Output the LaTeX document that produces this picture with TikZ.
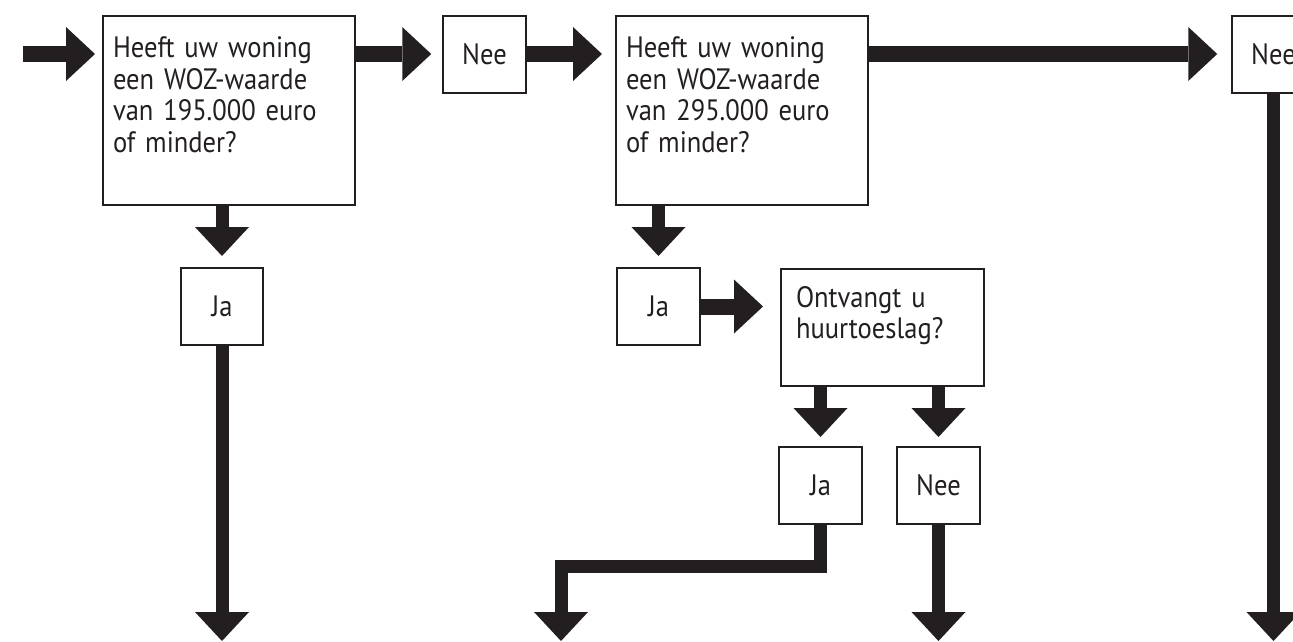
\documentclass[tikz,border=0pt]{standalone}
\usepackage{fontspec}
\setmainfont{PT Sans}[FakeStretch=0.9]
\usetikzlibrary{arrows.meta}
\definecolor{ink}{HTML}{231F20}

\begin{document}
\begin{tikzpicture}[x=1pt,y=-1pt,
  every node/.style={font=\fontsize{29.5pt}{31.5pt}\selectfont,text=ink},
  qbox/.style={draw=ink,line width=2pt,anchor=north west,align=left,inner ysep=0pt,
    execute at end node={\endgraf\vspace*{#1}}},
  sbox/.style={draw=ink,line width=2pt,minimum width=82.5pt,minimum height=77pt,inner sep=0pt},
  flow/.style={draw=ink,line width=#1,-{Triangle[length=29pt,width=54pt,line width=0pt]},shorten >=11pt},
  flow/.default=16pt]
\path[use as bounding box,fill=white] (0,0) rectangle (1293,641);
\clip (0,0) rectangle (1293,641);
% Questions
\node[qbox=32pt,minimum height=189pt,text width=231.5pt,inner xsep=10pt] (q1) at (102,15)
  {Heeft uw woning\\een WOZ-waarde\\van 195.000 euro\\of minder?};
\node[qbox=32pt,minimum height=189pt,text width=231.5pt,inner xsep=10pt] (q2) at (615,15)
  {Heeft uw woning\\een WOZ-waarde\\van 295.000 euro\\of minder?};
\node[qbox=24pt,minimum height=117pt,text width=173pt,inner xsep=15pt] (toeslag) at (780,268)
  {Ontvangt u\\huurtoeslag?};
% Answers
\node[sbox] (nee1) at (484.5,54) {Nee};
\node[sbox] (nee2) at (1273.5,54) {Nee};
\node[sbox] (ja1) at (222,306.5) {Ja};
\node[sbox] (ja2) at (658.5,306.5) {Ja};
\node[sbox] (ja3) at (820.5,485.5) {Ja};
\node[sbox] (nee3) at (938.5,485.5) {Nee};
% Open ends
\coordinate (in) at (23,54);
\coordinate (out1) at (222,641);
\coordinate (knee) at (561,566);
\coordinate (out2) at (561,641);
\coordinate (out3) at (938.5,641);
\coordinate (out4) at (1273.5,641);
% Arrows along the top
\draw[flow,shorten >=7pt] (in) -- (in -| q1.west);
\draw[flow] (q1.east |- nee1) -- (nee1);
\draw[flow,shorten >=13pt] (nee1) -- (nee1 -| q2.west);
\draw[flow,shorten >=14pt] (q2.east |- nee2) -- (nee2);
\draw[flow,shorten >=17pt] (ja2) -- (ja2 -| toeslag.west);
% Arrows downwards
\draw[flow=13pt] (ja1 |- q1.south) -- (ja1);
\draw[flow=13pt] (ja2 |- q2.south) -- (ja2);
\draw[flow=13pt,shorten >=9pt] (ja3 |- toeslag.south) -- (ja3);
\draw[flow=13pt,shorten >=9pt] (nee3 |- toeslag.south) -- (nee3);
\draw[flow=13pt,shorten >=0pt] (ja1) -- (out1);
\draw[flow=13pt,shorten >=0pt] (ja3) |- (knee) -- (out2);
\draw[flow=13pt,shorten >=0pt] (nee3) -- (out3);
\draw[flow=13pt,shorten >=0pt] (nee2) -- (out4);
\end{tikzpicture}
\end{document}
